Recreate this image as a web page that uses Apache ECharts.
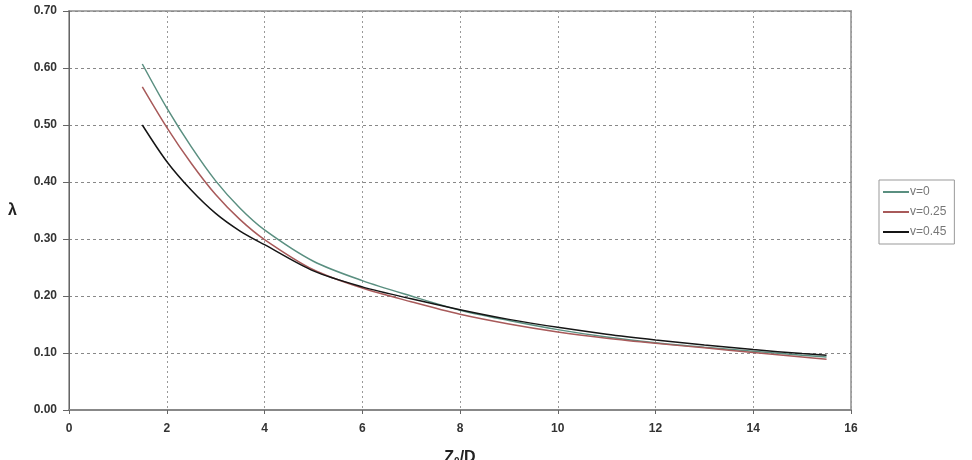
<!DOCTYPE html>
<html>
<head>
<meta charset="utf-8">
<script src="https://cdn.jsdelivr.net/npm/echarts@6/dist/echarts.min.js"></script>
<style>html,body{margin:0;padding:0;background:#fff;}#c{width:972px;height:460px;}</style>
</head>
<body>
<div id="c"></div>
<script>
const xValues = [1.5, 2, 2.5, 3, 3.5, 4, 5, 6, 7, 8, 9, 10, 11, 12, 13, 14, 15, 15.5];
const seriesNames = ['v=0', 'v=0.25', 'v=0.45'];
const v0 = [0.607, 0.530, 0.462, 0.402, 0.354, 0.316, 0.261, 0.227, 0.200, 0.175, 0.157, 0.141, 0.128, 0.118, 0.110, 0.103, 0.096, 0.093];
const v025 = [0.567, 0.496, 0.433, 0.378, 0.334, 0.299, 0.246, 0.214, 0.190, 0.168, 0.151, 0.137, 0.126, 0.117, 0.109, 0.101, 0.093, 0.089];
const v045 = [0.500, 0.436, 0.386, 0.345, 0.314, 0.290, 0.244, 0.216, 0.195, 0.176, 0.159, 0.145, 0.133, 0.123, 0.114, 0.106, 0.099, 0.096];
const colors = ['#5a8f80', '#a85a5a', '#151515'];

const pair = arr => xValues.map((x, i) => [x, arr[i]]);
const chart = echarts.init(document.getElementById('c'));
const font = 'Liberation Sans, Arial, sans-serif';
chart.setOption({
  animation: false,
  backgroundColor: '#fff',
  grid: { left: 69, right: 121, top: 11, bottom: 50, show: true, borderColor: '#aaa', borderWidth: 2,
          containLabel: false, outerBoundsMode: 'none' },
  legend: {
    orient: 'vertical', left: 879, top: 180,
    data: seriesNames,
    icon: 'rect', itemWidth: 26, itemHeight: 2, itemGap: 8,
    borderColor: '#999', borderWidth: 1, padding: [6, 8, 6, 4],
    textStyle: { color: '#777', fontSize: 12, fontFamily: font, padding: [0, 0, 0, -4] }
  },
  xAxis: {
    type: 'value', min: 0, max: 16, interval: 2,
    name: 'Z{s|0}/D', nameLocation: 'middle', nameGap: 39,
    nameTextStyle: { fontSize: 16, fontWeight: 'bold', color: '#222', fontFamily: font,
      rich: { s: { fontSize: 10, fontWeight: 'bold', color: '#222', verticalAlign: 'bottom', padding: [8, 0, 0, 0] } } },
    axisLine: { lineStyle: { color: '#888', width: 2 } },
    axisTick: { show: true, length: 4, lineStyle: { color: '#666' } },
    axisLabel: { color: '#333', fontSize: 12, fontWeight: 'bold', fontFamily: font, margin: 13 },
    splitLine: { show: true, lineStyle: { color: '#999', type: [2, 3], width: 1 } }
  },
  yAxis: {
    type: 'value', min: 0, max: 0.7, interval: 0.1,
    name: 'λ', nameLocation: 'middle', nameGap: 52, nameRotate: 0,
    nameTextStyle: { fontSize: 16, fontWeight: 'bold', color: '#222', fontFamily: font, padding: [14, 0, 0, 0] },
    axisLine: { show: true, lineStyle: { color: '#666', width: 1 } },
    axisTick: { show: true, length: 6, lineStyle: { color: '#666' } },
    axisLabel: { color: '#333', fontSize: 12, fontWeight: 'bold', fontFamily: font, margin: 12, formatter: v => v.toFixed(2) },
    splitLine: { show: true, lineStyle: { color: '#888', type: [3, 3], width: 1 } }
  },
  series: [v0, v025, v045].map((arr, i) => ({
    name: seriesNames[i], type: 'line', data: pair(arr), smooth: 0.3,
    showSymbol: false, symbol: 'none',
    lineStyle: { color: colors[i], width: 1.5 }, itemStyle: { color: colors[i] }
  }))
});
</script>
</body>
</html>
